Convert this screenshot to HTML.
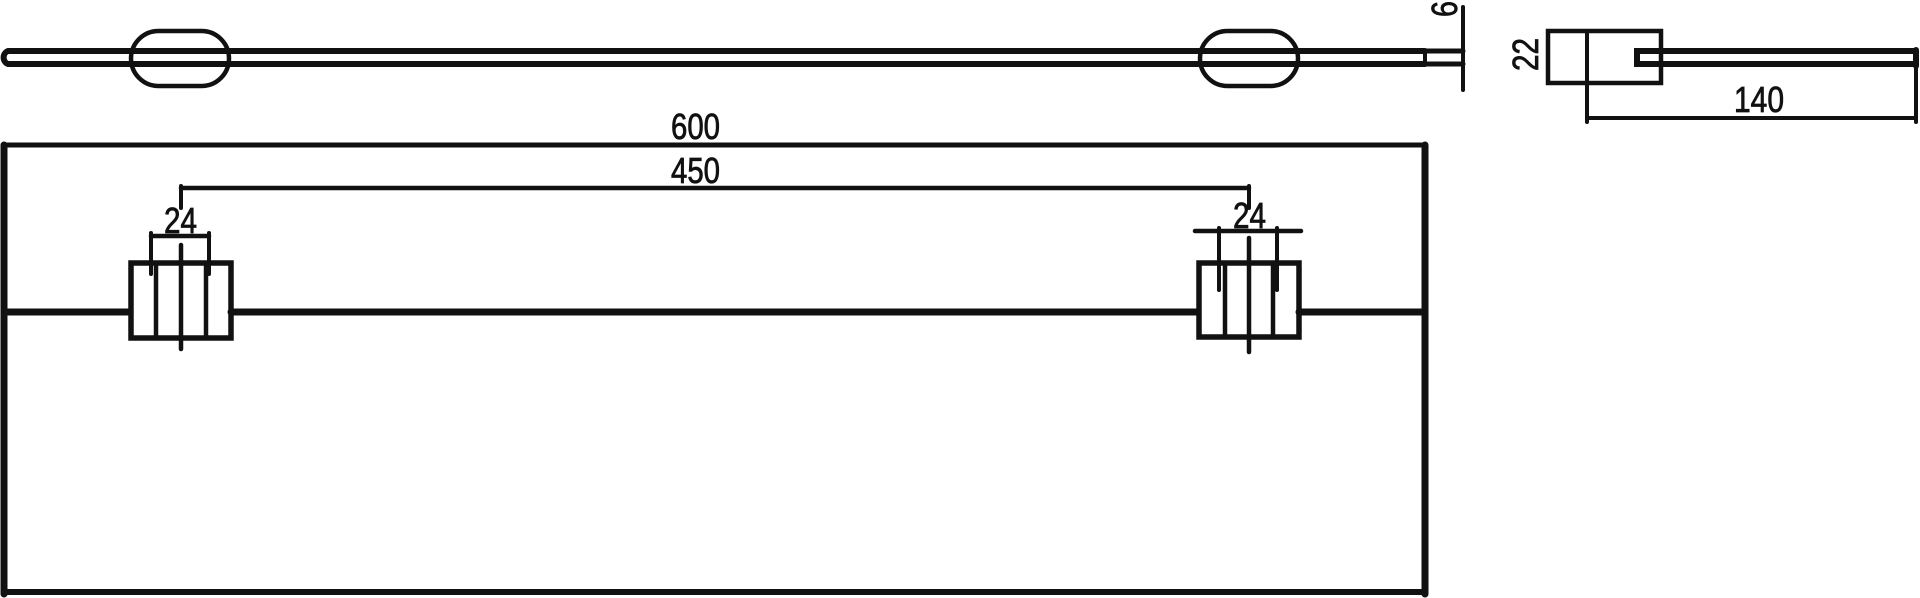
<!DOCTYPE html>
<html><head><meta charset="utf-8"><style>
html,body{margin:0;padding:0;background:#fff;}
svg{display:block;}
text{font-family:"Liberation Sans",sans-serif;font-size:36px;fill:#111;stroke:#111;stroke-width:0.8;}
</style></head><body>
<svg width="1920" height="598" viewBox="0 0 1920 598" xmlns="http://www.w3.org/2000/svg">
<g stroke="#111" fill="none" stroke-linecap="round">
<path d="M1425 51 H8 A7 7 0 0 0 8 64 H1425" stroke-width="6"/>
<line x1="1425" y1="51" x2="1425" y2="64" stroke-width="4"/>
<line x1="1425" y1="51" x2="1463" y2="51" stroke-width="5"/>
<line x1="1425" y1="64" x2="1463" y2="64" stroke-width="5"/>
<line x1="1463" y1="7" x2="1463" y2="90" stroke-width="4"/>
<rect x="131" y="31" width="98" height="55" rx="27.5" ry="27.5" stroke-width="4.5"/>
<rect x="1200" y="31" width="98" height="55" rx="27.5" ry="27.5" stroke-width="4.5"/>
<rect x="1548" y="31" width="113" height="52" stroke-width="4.5"/>
<line x1="1587" y1="31" x2="1587" y2="122" stroke-width="4"/>
<path d="M1661 51 H1637 V64 H1661" stroke-width="6"/>
<path d="M1661 51 H1914 M1661 64 H1914" stroke-width="6"/>
<line x1="1916" y1="50" x2="1916" y2="122" stroke-width="4"/>
<line x1="1916" y1="50" x2="1916" y2="66" stroke-width="6"/>
<line x1="1587" y1="118" x2="1916" y2="118" stroke-width="4"/>
<line x1="3" y1="145" x2="1425" y2="145" stroke-width="5"/>
<line x1="4" y1="145" x2="4" y2="594" stroke-width="7"/>
<line x1="1425" y1="145" x2="1425" y2="594" stroke-width="7"/>
<line x1="4" y1="592" x2="1425" y2="592" stroke-width="6"/>
<line x1="4" y1="312" x2="130" y2="312" stroke-width="7"/>
<line x1="231" y1="312" x2="1198" y2="312" stroke-width="7"/>
<line x1="1299" y1="312" x2="1425" y2="312" stroke-width="7"/>
<line x1="181" y1="188" x2="1249" y2="188" stroke-width="4.5"/>
<line x1="181" y1="186" x2="181" y2="208" stroke-width="4"/>
<line x1="1249" y1="186" x2="1249" y2="208" stroke-width="4"/>
<rect x="131" y="263" width="100" height="75" stroke-width="5.5"/>
<line x1="156" y1="263" x2="156" y2="338" stroke-width="4.5"/>
<line x1="206" y1="263" x2="206" y2="338" stroke-width="4.5"/>
<line x1="181" y1="245" x2="181" y2="349" stroke-width="4.5"/>
<line x1="151" y1="236" x2="209" y2="236" stroke-width="4.5"/>
<line x1="151" y1="233" x2="151" y2="274" stroke-width="4"/>
<line x1="209" y1="233" x2="209" y2="274" stroke-width="4"/>
<rect x="1199" y="263" width="100" height="74" stroke-width="5.5"/>
<line x1="1225" y1="263" x2="1225" y2="337" stroke-width="4.5"/>
<line x1="1273" y1="263" x2="1273" y2="337" stroke-width="4.5"/>
<line x1="1249" y1="238" x2="1249" y2="352" stroke-width="4.5"/>
<line x1="1195" y1="231" x2="1301" y2="231" stroke-width="4.5"/>
<line x1="1219" y1="228" x2="1219" y2="290" stroke-width="4"/>
<line x1="1277" y1="228" x2="1277" y2="290" stroke-width="4"/>
</g>
<text x="671" y="139" textLength="49" lengthAdjust="spacingAndGlyphs">600</text>
<text x="671" y="183" textLength="49" lengthAdjust="spacingAndGlyphs">450</text>
<text x="164" y="233" textLength="33" lengthAdjust="spacingAndGlyphs">24</text>
<text x="1233" y="228" textLength="33" lengthAdjust="spacingAndGlyphs">24</text>
<text x="1734" y="112" textLength="50" lengthAdjust="spacingAndGlyphs">140</text>
<text transform="translate(1538,71) rotate(-90)" textLength="33" lengthAdjust="spacingAndGlyphs">22</text>
<text transform="translate(1457,17) rotate(-90)" textLength="16" lengthAdjust="spacingAndGlyphs">6</text>
</svg>
</body></html>
